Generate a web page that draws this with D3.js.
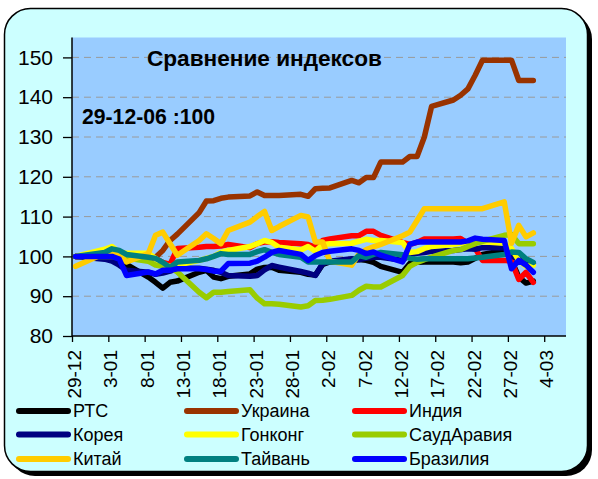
<!DOCTYPE html>
<html><head><meta charset="utf-8">
<script src="https://cdn.jsdelivr.net/npm/d3@7"></script>
<style>body{margin:0;background:#fff} svg{display:block}</style>
</head><body><svg id="c" width="598" height="479"></svg>
<script>
const dates = ["2006-12-29","2007-01-02","2007-01-03","2007-01-04","2007-01-05",
 "2007-01-08","2007-01-09","2007-01-10","2007-01-11","2007-01-12",
 "2007-01-15","2007-01-16","2007-01-17","2007-01-18","2007-01-19",
 "2007-01-22","2007-01-23","2007-01-24","2007-01-25","2007-01-26",
 "2007-01-29","2007-01-30","2007-01-31","2007-02-01","2007-02-02",
 "2007-02-05","2007-02-06","2007-02-07","2007-02-08","2007-02-09",
 "2007-02-12","2007-02-13","2007-02-14","2007-02-15","2007-02-16",
 "2007-02-19","2007-02-20","2007-02-21","2007-02-22","2007-02-23",
 "2007-02-26","2007-02-27","2007-02-28","2007-03-01","2007-03-02"];

const rts      = [100,100,99.8,99,98, 94.8,93.5,92,93.5,93.8, 96,96.5,94.8,94.4,95, 95.6,96.8,97.2,97.3,96.5, 96,95.5,95.3,98,98.6, 98.8,99.2,99,98.5,97.5, 96,98.2,98.5,98.6,98.6, 98.6,98.4,98.6,99.5,100.5, 101.5,99,94.8,93.3,93.8];
const ukraine  = [100,100,100,100,100, 99.8,99.8,101.5,104,105.6, 111,113.9,114,114.6,114.9, 115.2,116.2,115.3,115.3,115.3, 115.6,115.1,117,117.1,117.2, 119.1,118.5,119.8,119.8,123.7, 123.7,125.1,125.1,130,137.7, 139.3,140.5,142.1,145.5,149.3, 149.3,149.3,144.2,144.2,144.2];
const india    = [100,100.3,100.5,100.5,100, 99.5,99.5,98.5,98,102, 102.3,102.5,102.5,102.6,103, 102.2,103.2,103.6,103.7,103.5, 103.2,103,102.3,104,104.4, 105.2,105.2,106.3,106.3,105.3, 103.5,103,103.5,104.4,104.4, 104.4,104.5,103.3,102,99, 99,98.8,94.2,96,93.5];
const korea    = [100,99.3,98.8,97.8,96.5, 96,95.5,95.8,96.3,97, 97,96.8,96.5,96,95.2, 95,95.2,96.6,97.7,97.3, 96.2,95.8,95.2,98.2,98.8, 99.4,99.2,99.6,99.8,99.8, 99,100.5,100.8,101,101.3, 101.5,101.7,101.9,101.8,102.2, 102.2,100,99.5,99,98.2];
const hongkong = [100,101.8,102.5,101,100.8, 100.8,99.5,98,97.5,97.8, 99,99.5,100,101,101.5, 102.5,103.2,104,103.5,102.3, 101.6,102.5,101.3,103,103.2, 103.3,103.8,104.3,104,104, 103.5,101,101.2,102,102.5, 103,103.3,103.5,103.5,103.7, 103.3,102,99,97.5,97.8];
const saudi    = [100,100,100,100,99.6, 98.8,97.8,97.5,97.3,96.1, 91,89.6,91,91,91.2, 91.6,89.5,88.1,88.1,88, 87.3,87.6,88.9,89,89.2, 90.2,91.5,92.5,92.3,92.3, 95.2,97.5,98.5,99.2,99.8, 101.5,101.7,102.5,103.2,103.8, 105.3,105.5,103.2,103.2,103.2];
const china    = [97.5,100.8,100.8,100.3,98.6, 100.7,105.3,106.1,103.2,100.3, 104,105.7,104.5,103.2,106.5, 108.6,110,111.3,106.5,107.5, 110.3,109.9,103.6,103.6,98.8, 97.8,100.6,101.7,102.4,103, 105.2,106.1,109,112,112, 112,112,112,112,112, 113.7,103.3,107.8,104.9,105.9];
const taiwan   = [100,101,101.9,101.5,100.5, 99.8,99.5,98.5,97.2,98.6, 99,99.4,100,100.7,100.5, 100.5,101.2,101.7,101,100.5, 99.8,98.6,98.6,98.6,98.6, 98.6,100.2,99.8,100.5,101, 100.4,99.5,99.3,99.4,99.4, 99.4,99.4,99.4,99.6,99.8, 100.5,101.1,101,99.4,98.5];
const brazil   = [100,100,100,99.3,95.2, 96.1,95.6,96.5,96.5,96.9, 96.9,96.7,96.3,96.3,98.2, 98.3,98.8,99.8,101,101.5, 100.5,99,100.2,101,101.3, 101.9,101.5,100.7,101.1,100.3, 98.6,103,103.6,103.6,103.6, 103.6,103.6,103.9,104.6,104.3, 104,96.9,99,97.8,96];

const seriesNames  = ["РТС","Украина","Индия","Корея","Гонконг","СаудАравия","Китай","Тайвань","Бразилия"];
const seriesColors = ["#000000","#993300","#FF0000","#000080","#FFFF00","#99CC00","#FFCC00","#008080","#0000FF"];
const seriesValues = [rts, ukraine, india, korea, hongkong, saudi, china, taiwan, brazil];

const yTicks = [80,90,100,110,120,130,140,150];
const xTickDates  = ["2006-12-29","2007-01-03","2007-01-08","2007-01-13","2007-01-18","2007-01-23","2007-01-28","2007-02-02","2007-02-07","2007-02-12","2007-02-17","2007-02-22","2007-02-27","2007-03-04"];
const xTickLabels = ["29-12","3-01","8-01","13-01","18-01","23-01","28-01","2-02","7-02","12-02","17-02","22-02","27-02","4-03"];

const titleText = "Сравнение индексов";
const noteText = "29-12-06 :100";

const FONT = "'Liberation Sans', Arial, sans-serif";
const parse = d3.timeParse("%Y-%m-%d");
const svg = d3.select("#c");

// frame
svg.append("rect").attr("x",9).attr("y",13).attr("width",583).attr("height",463).attr("rx",26).attr("fill","#000");
svg.append("rect").attr("x",4.5).attr("y",8.5).attr("width",583).attr("height",463).attr("rx",26)
  .attr("fill","#CCFFFF").attr("stroke","#000").attr("stroke-width",1.5);

const L = 72, R = 566, T = 37.5, B = 336;
const x = d3.scaleTime().domain([parse("2006-12-29"), parse("2007-03-07")]).range([L, R]);
const y = d3.scaleLinear().domain([80, 155]).range([B, T]);

svg.append("rect").attr("x",L).attr("y",T).attr("width",R-L).attr("height",B-T).attr("fill","#99CCFF");

// grid
svg.append("g").selectAll("line").data(yTicks.filter(v => v > 80)).join("line")
  .attr("x1",L).attr("x2",R).attr("y1",d=>y(d)).attr("y2",d=>y(d))
  .attr("stroke","#9a9a9a").attr("stroke-width",1).attr("stroke-dasharray","7,5");

// title texts
svg.append("text").attr("x",147).attr("y",66).attr("font-family",FONT).attr("font-weight","bold")
  .attr("font-size",22.6).attr("fill","#000").text(titleText);
svg.append("text").attr("x",82).attr("y",124).attr("font-family",FONT).attr("font-weight","bold")
  .attr("font-size",21.2).attr("fill","#000").text(noteText);

// lines
const parsed = dates.map(parse);
const px = d => x(d3.timeHour.offset(d, 12));
const line = d3.line().x((v,i)=>px(parsed[i])).y(v=>y(v));
const gl = svg.append("g");
seriesValues.forEach((vals, k) => {
  gl.append("path").attr("d", line(vals)).attr("fill","none")
    .attr("stroke", seriesColors[k]).attr("stroke-width",5.5)
    .attr("stroke-linejoin","round").attr("stroke-linecap","round");
});

// y axis
const minor = d3.range(80, 156, 2);
const ya = svg.append("g").attr("transform",`translate(${L},0)`);
ya.call(d3.axisLeft(y).tickValues(minor).tickSize(-5).tickFormat(""));
ya.call(d3.axisLeft(y).tickValues(yTicks).tickSize(9).tickPadding(10).tickFormat(d3.format("d")));
ya.selectAll("path.domain").attr("d",`M0,${T}V${B}`).attr("stroke","#000").attr("stroke-width",1.5);
ya.selectAll("line").attr("stroke","#000").attr("stroke-width",1.3);
ya.selectAll("text").attr("font-family",FONT).attr("font-size",21).attr("fill","#000");

// x axis
const xa = svg.append("g").attr("transform",`translate(0,${B})`);
xa.call(d3.axisBottom(x).tickValues(xTickDates.map(parse)).tickSize(6).tickFormat((d,i)=>xTickLabels[i]));
xa.select("path.domain").attr("d",`M${L},0H${R}`).attr("stroke","#000").attr("stroke-width",1.5);
xa.selectAll("line").attr("stroke","#000").attr("stroke-width",1.3);
xa.selectAll("text").attr("font-family",FONT).attr("font-size",19).attr("fill","#000")
  .attr("transform","rotate(-90)").attr("text-anchor","end")
  .attr("x",-14).attr("y",2).attr("dy","0.35em");

// legend
const colX = [19, 187, 355], rowY = [411, 434.5, 459];
const lg = svg.append("g");
seriesNames.forEach((n, k) => {
  const cx = colX[k % 3], cy = rowY[Math.floor(k / 3)];
  lg.append("line").attr("x1",cx).attr("x2",cx+49).attr("y1",cy).attr("y2",cy)
    .attr("stroke",seriesColors[k]).attr("stroke-width",6).attr("stroke-linecap","round");
  lg.append("text").attr("x",cx+54).attr("y",cy).attr("dy","0.36em").attr("font-family",FONT)
    .attr("font-size",18).attr("fill","#000").text(n);
});
</script></body></html>
